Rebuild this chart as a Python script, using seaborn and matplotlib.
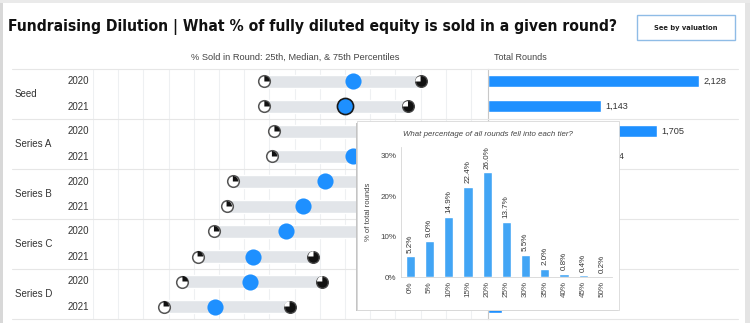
import numpy as np
import pandas as pd
import seaborn as sns
import matplotlib
matplotlib.use("Agg")
import matplotlib.pyplot as plt
from matplotlib.path import Path
from matplotlib.patches import Rectangle
from matplotlib.lines import Line2D
from matplotlib import font_manager as fm

# ---------------- data ----------------
rounds = ["Seed", "Series A", "Series B", "Series C", "Series D"]
years = ["2020", "2021"]
p25 = [13.6, 13.6, 14.4, 14.2, 11.1, 10.6, 9.6, 8.3, 7.1, 5.6]
p50 = [20.6, 20.0, 21.6, 20.6, 18.4, 16.7, 15.3, 12.7, 12.5, 9.7]
p75 = [26.0, 25.0, 26.7, 26.3, 24.4, 23.2, 22.0, 17.5, 18.2, 15.6]
total_rounds = [2128, 1143, 1705, 1104, 860, 610, 520, 330, 260, 140]
tiers = ["0%", "5%", "10%", "15%", "20%", "25%", "30%", "35%", "40%", "45%", "50%"]
tier_share = [5.2, 9.0, 14.9, 22.4, 26.0, 13.7, 5.5, 2.0, 0.8, 0.4, 0.2]
pct_ticks = [0, 10, 20, 30]

title = "Fundraising Dilution | What % of fully diluted equity is sold in a given round?"
subtitle = "% Sold in Round: 25th, Median, & 75th Percentiles"
bar_title = "Total Rounds"
popup_title = "What percentage of all rounds fell into each tier?"
button_text = "See by valuation"

# ---------------- style ----------------
sns.set_theme(style="white")
plt.rcParams["font.family"] = ["Liberation Sans", "DejaVu Sans"]


def find_narrow():
    for fam, stretch in [("Liberation Sans Narrow", "normal"),
                         ("DejaVu Sans", "condensed")]:
        try:
            p = fm.findfont(fm.FontProperties(family=fam, stretch=stretch, weight="bold"),
                            fallback_to_default=False)
            if "Narrow" in p or "Condensed" in p:
                return fam, stretch
        except Exception:
            pass
    return "Liberation Sans", "normal"


narrow_fam, narrow_stretch = find_narrow()

W, H = 750, 323
fig = plt.figure(figsize=(W / 100, H / 100), dpi=100)
fig.patch.set_facecolor("white")


def rect(x0, y0, x1, y1):
    return [x0 / W, 1 - y1 / H, (x1 - x0) / W, (y1 - y0) / H]


def fx(x):
    return x / W


def fy(y):
    return 1 - y / H


renderer = fig.canvas.get_renderer()


def fit(t, target):
    for _ in range(3):
        w = t.get_window_extent(renderer).width
        t.set_fontsize(t.get_fontsize() * target / w)


BLUE = "#1E90FF"
GREY_BAR = "#E2E5E9"
TXT = "#333333"

labels = [f"{r} {y}" for r in rounds for y in years]
ypos = np.arange(len(labels))

# popup box (pixels, top-left origin)
POP = (357, 121, 619, 310)

# ---------------- dumbbell panel ----------------
ax_d = fig.add_axes(rect(93, 69, 488, 319))
ax_d.barh(ypos, np.array(p75) - np.array(p25), left=p25, height=0.52,
          color=GREY_BAR, zorder=2)
ax_d.scatter(p25, ypos, s=70, marker="o", facecolor="white",
             edgecolor="#555555", linewidth=1.1, zorder=3)
ax_d.scatter(p25, ypos, s=62, marker=Path.wedge(0, 90), facecolor="#111111",
             edgecolor="none", zorder=4)
ax_d.scatter(p75, ypos, s=70, marker="o", facecolor="#111111",
             edgecolor="#444444", linewidth=1.0, zorder=3)
ax_d.scatter(p75, ypos, s=58, marker=Path.wedge(90, 180), facecolor="white",
             edgecolor="none", zorder=4)
med_df = pd.DataFrame({"median": p50, "pos": ypos})
sns.scatterplot(data=med_df, x="median", y="pos", ax=ax_d, s=135, color=BLUE,
                linewidth=0, zorder=5, legend=False)
ax_d.scatter([p50[1]], [ypos[1]], s=135, facecolor=BLUE, edgecolor="#1a1a1a",
             linewidth=1.2, zorder=6)
ax_d.set_xlim(0, 31.35)
ax_d.set_ylim(9.5, -0.5)
ax_d.set_xticks(np.arange(0, 31, 2))
ax_d.set_yticks([])
ax_d.grid(axis="x", color="#EEF0F2", linewidth=0.8)
ax_d.set_axisbelow(True)
ax_d.tick_params(length=0, labelbottom=False, labelleft=False)
ax_d.set_xlabel("")
ax_d.set_ylabel("")
for s in ax_d.spines.values():
    s.set_visible(False)

# ---------------- total rounds panel ----------------
BAR_X0, BAR_X1 = 488, 745
px_per_unit = 0.0992
ax_b = fig.add_axes(rect(BAR_X0, 69, BAR_X1, 319))
df_b = pd.DataFrame({"row": labels, "total": total_rounds})
sns.barplot(data=df_b, x="total", y="row", ax=ax_b, color=BLUE, width=0.48,
            saturation=1, orient="h")
# labels fully covered by the popup are not drawn (they are hidden in the reference)
bar_lbls = []
for i, v in enumerate(total_rounds):
    yc = 69 + 25 * (i + 0.5)
    lbl_end = BAR_X0 + v * px_per_unit + 30
    hidden = POP[1] < yc < POP[3] and lbl_end < POP[2]
    bar_lbls.append("" if hidden else f"{v:,}")
ax_b.bar_label(ax_b.containers[0], labels=bar_lbls,
               padding=3, fontsize=6.6, color=TXT)
ax_b.set_xlim(0, (BAR_X1 - BAR_X0) / px_per_unit)
ax_b.set_ylim(9.5, -0.5)
ax_b.set_xticks([])
ax_b.set_yticks([])
ax_b.set_xlabel("")
ax_b.set_ylabel("")
for k, s in ax_b.spines.items():
    s.set_visible(k == "left")
ax_b.spines["left"].set_color("#C8C8C8")
ax_b.spines["left"].set_linewidth(0.8)

# separators
for yy in [69, 119, 169, 219, 269, 319]:
    fig.add_artist(Line2D([fx(12), fx(738)], [fy(yy), fy(yy)], color="#E6E6E6",
                          linewidth=0.8, zorder=0.5))

# row labels
for i, lab in enumerate(labels):
    yc = 69 + 25 * (i + 0.5)
    fig.text(fx(89), fy(yc), lab.split(" ")[-1], ha="right", va="center",
             fontsize=7, color=TXT)
for g, r in enumerate(rounds):
    yc = 69 + 50 * (g + 0.5)
    fig.text(fx(15), fy(yc), r, ha="left", va="center", fontsize=7, color=TXT)

# headers
t_sub = fig.text(fx(295), fy(57), subtitle, ha="center", va="center",
                 fontsize=6.3, color="#444444")
fit(t_sub, 209)
t_tot = fig.text(fx(494), fy(57), bar_title, ha="left", va="center",
                 fontsize=6.3, color="#444444")
fit(t_tot, 53)

# title
t_title = fig.text(fx(8), fy(27), title, ha="left", va="center", fontsize=14,
                   fontweight="bold", color="#111111",
                   family=[narrow_fam, "DejaVu Sans"], fontstretch=narrow_stretch)
fit(t_title, 610)

# button
fig.add_artist(Rectangle((fx(637), fy(40)), fx(735) - fx(637), fy(15) - fy(40),
                         facecolor="white", edgecolor="#8FBCE6", linewidth=1.0,
                         transform=fig.transFigure, zorder=2))
t_btn = fig.text(fx(686), fy(28), button_text, ha="center", va="center",
                 fontsize=6.5, fontweight="bold", color="#222222",
                 family=[narrow_fam, "DejaVu Sans"], fontstretch=narrow_stretch,
                 zorder=3)
fit(t_btn, 63)

# frame edges
fig.add_artist(Rectangle((0, 0), fx(3), 1, transform=fig.transFigure,
                         facecolor="#D8D8D8", edgecolor="none", zorder=0.6))
fig.add_artist(Rectangle((fx(745), 0), fx(5), 1, transform=fig.transFigure,
                         facecolor="#E4E4E4", edgecolor="none", zorder=0.6))
fig.add_artist(Rectangle((0, fy(3)), 1, fy(0) - fy(3), transform=fig.transFigure,
                         facecolor="#EAEAEA", edgecolor="none", zorder=0.6))

# ---------------- popup ----------------
fig.add_artist(Rectangle((fx(POP[0] - 1.5), fy(POP[3] + 1.2)), fx(POP[2] - POP[0]),
                         fy(POP[1] + 2) - fy(POP[3] + 1.2), transform=fig.transFigure,
                         facecolor="#C4C4C4", edgecolor="none", zorder=3))
fig.add_artist(Rectangle((fx(POP[0]), fy(POP[3])), fx(POP[2] - POP[0]),
                         fy(POP[1]) - fy(POP[3]),
                         transform=fig.transFigure, facecolor="white",
                         edgecolor="#D8D8D8", linewidth=0.6, zorder=3.5))
t_pop = fig.text(fx(488), fy(134), popup_title, ha="center", va="center",
                 fontsize=5.3, style="italic", color="#444444", zorder=4)
fit(t_pop, 170)

ax_h = fig.add_axes(rect(400.7, 147, 612, 277), zorder=5)
ax_h.patch.set_alpha(0)
df_h = pd.DataFrame({"tier": tiers, "share": tier_share})
sns.barplot(data=df_h, x="tier", y="share", ax=ax_h, color="#42A5F5",
            width=0.48, saturation=1)
ax_h.bar_label(ax_h.containers[0], labels=[f"{v:.1f}%" for v in tier_share],
               rotation=90, padding=2.5, fontsize=5.8, color="#333333")
ax_h.set_xlim(-0.5, 10.5)
ax_h.set_ylim(0, 32.2)
ax_h.set_yticks(pct_ticks)
ax_h.set_yticklabels([f"{v}%" for v in pct_ticks], fontsize=5.8, color="#444444")
ax_h.set_xticks(range(len(tiers)))
ax_h.set_xticklabels(tiers, rotation=90, fontsize=5.8, color="#444444")
ax_h.tick_params(length=0, pad=3)
ax_h.set_xlabel("")
ax_h.set_ylabel("% of total rounds", fontsize=5.6, color="#444444", labelpad=6)
for k in ["top", "right"]:
    ax_h.spines[k].set_visible(False)
for k in ["left", "bottom"]:
    ax_h.spines[k].set_color("#D6D6D6")
    ax_h.spines[k].set_linewidth(0.6)

fig.savefig("out.png", dpi=100, facecolor="white")
